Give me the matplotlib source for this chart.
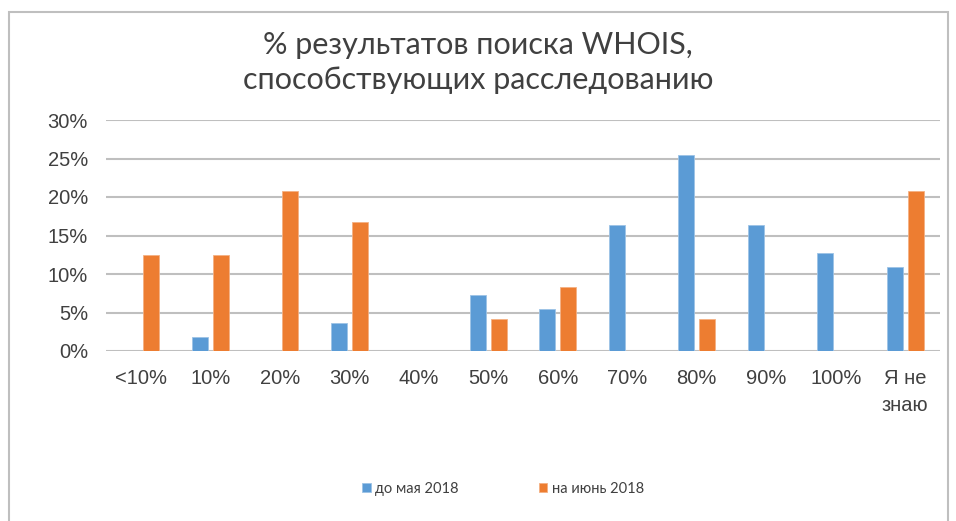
"""Grouped bar chart: share of WHOIS lookups that helped an investigation."""
import matplotlib.pyplot as plt
import numpy as np
from matplotlib.patches import Rectangle

categories = ["<10%", "10%", "20%", "30%", "40%", "50%", "60%", "70%",
              "80%", "90%", "100%", "Я не\nзнаю"]
before_may_2018 = [0.0, 1.8, 0.0, 3.6, 0.0, 7.3, 5.5, 16.4, 25.5, 16.4, 12.7, 10.9]
june_2018 = [12.5, 12.5, 20.8, 16.7, 0.0, 4.2, 8.3, 0.0, 4.2, 0.0, 0.0, 20.8]
series_names = ["до мая 2018", "на июнь 2018"]
yticks = [0, 5, 10, 15, 20, 25, 30]

BLUE = "#5B9BD5"
ORANGE = "#ED7D31"
TEXT = "#404040"
NARROW = ["Lato", "DejaVu Sans"]

plt.rcParams["font.family"] = ["Liberation Sans", "DejaVu Sans"]

fig = plt.figure(figsize=(9.56, 5.21), dpi=100)
ax = fig.add_axes([106 / 956, 1 - 351 / 521, 834 / 956, 231 / 521])

x = np.arange(len(categories))
w = 0.23
ax.bar(x - 0.151, before_may_2018, w, color=BLUE, edgecolor="#9DC3E6",
       linewidth=0.6, label=series_names[0], zorder=3)
ax.bar(x + 0.151, june_2018, w, color=ORANGE, edgecolor="#F4B183",
       linewidth=0.6, label=series_names[1], zorder=3)

ax.set_xlim(-0.5, len(categories) - 0.5)
ax.set_ylim(0, 30)
ax.set_yticks(yticks)
ax.set_yticklabels([f"{v}%" for v in yticks])
ax.set_xticks(x)
ax.set_xticklabels(categories, linespacing=1.55)
ax.tick_params(length=0, labelsize=14.5, labelcolor=TEXT)
ax.tick_params(axis="y", pad=13)
ax.tick_params(axis="x", pad=13)
for lbl in ax.get_xticklabels():
    lbl.set_verticalalignment("top")

ax.grid(axis="y", color="#BFBFBF", linewidth=1.5, zorder=0)
for side in ["top", "right", "left", "bottom"]:
    ax.spines[side].set_visible(False)

fig.text(0.5, 1 - 45 / 521, "% результатов поиска WHOIS,", ha="center",
         va="center", fontsize=22, color=TEXT, family=NARROW)
fig.text(0.5, 1 - 80 / 521, "способствующих расследованию", ha="center",
         va="center", fontsize=22, color=TEXT, family=NARROW)

leg = fig.legend(loc="center", bbox_to_anchor=(0.526, 1 - 489 / 521), ncol=2,
                 frameon=False, handlelength=0.6,
                 handleheight=0.6, handletextpad=0.3, columnspacing=5.5,
                 prop={"family": NARROW, "size": 10.5})
for t in leg.get_texts():
    t.set_color(TEXT)

fig.patches.append(Rectangle((9 / 956, -0.05), 939 / 956, 1.05 - 12 / 521,
                             transform=fig.transFigure, fill=False,
                             edgecolor="#BFBFBF", linewidth=1.5))

fig.savefig("out.png", dpi=100)
